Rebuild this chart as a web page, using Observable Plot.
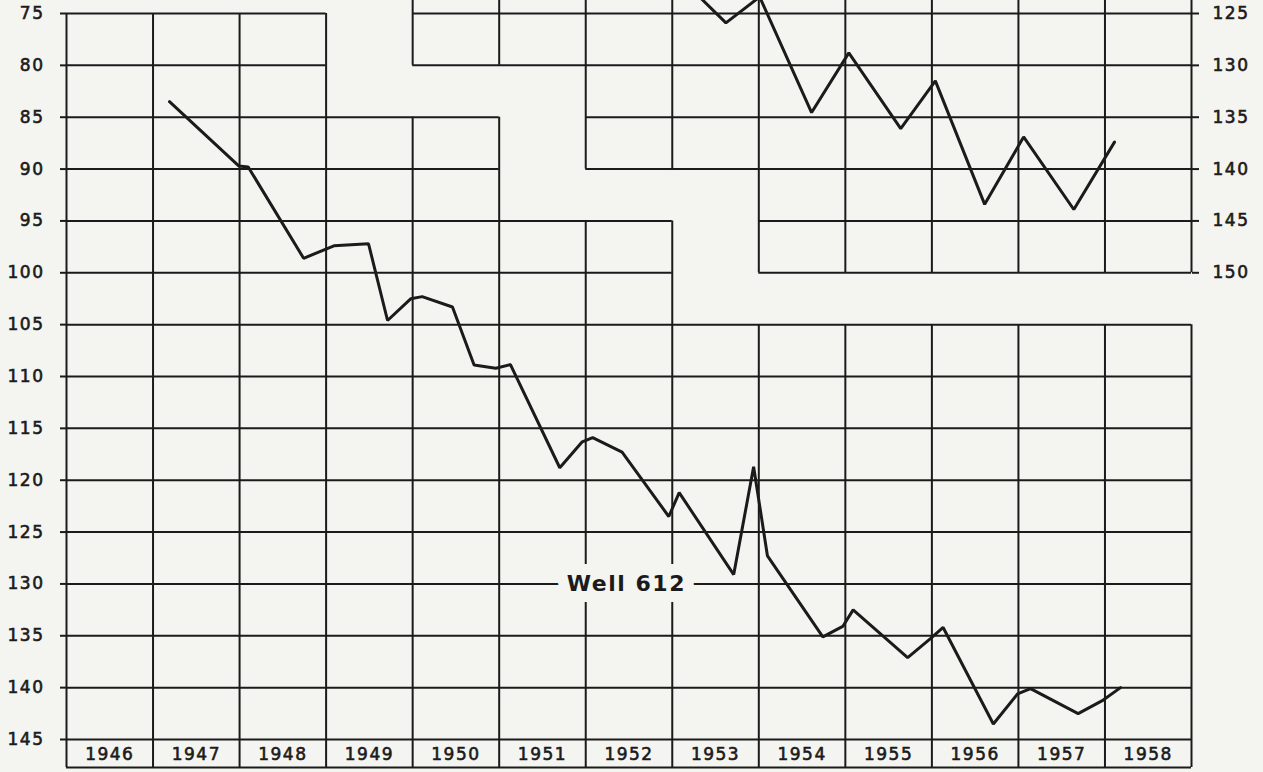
<!DOCTYPE html>
<html>
<head>
<meta charset="utf-8">
<script src="https://cdn.jsdelivr.net/npm/d3@7"></script>
<script src="https://cdn.jsdelivr.net/npm/@observablehq/plot@0.6"></script>
<style>
  html, body { margin: 0; padding: 0; background: #f4f4f1; }
  #chart svg text { letter-spacing: 1.5px; }
  #chart svg g[aria-label="y-axis tick label"] text { stroke: #1b1b1b; stroke-width: 0.6px; }
</style>
</head>
<body>
<div id="chart"></div>
<script>
// ---- Data ----
// Lower hydrograph, Well 612 (depth to water, feet; left axis)
const lowerYears  = [1947.19, 1947.99, 1948.10, 1948.74, 1949.09, 1949.49, 1949.71, 1949.98, 1950.11, 1950.46,
                     1950.71, 1950.96, 1951.13, 1951.70, 1951.96, 1952.08, 1952.42, 1952.96, 1953.08, 1953.71,
                     1953.94, 1954.10, 1954.74, 1954.97, 1955.09, 1955.72, 1955.98, 1956.13, 1956.71, 1956.99,
                     1957.14, 1957.69, 1957.98, 1958.18];
const lowerDepths = [83.5, 89.7, 89.8, 98.6, 97.4, 97.2, 104.6, 102.5, 102.3, 103.3,
                     108.9, 109.2, 108.85, 118.8, 116.3, 115.9, 117.3, 123.5, 121.2, 129.1,
                     118.7, 127.3, 135.1, 134.1, 132.5, 137.1, 135.3, 134.2, 143.5, 140.6,
                     140.1, 142.5, 141.2, 140.0];

// Upper hydrograph (depth, feet; right axis)
const upperYears  = [1953.29, 1953.62, 1954.01, 1954.61, 1955.04, 1955.64, 1956.04, 1956.61, 1957.06, 1957.64, 1958.11];
const upperDepths = [123.2, 125.9, 123.4, 134.55, 128.8, 136.1, 131.5, 143.4, 136.9, 143.9, 137.4];

// Axes
const leftTicks  = [75, 80, 85, 90, 95, 100, 105, 110, 115, 120, 125, 130, 135, 140, 145];
const rightTicks = [125, 130, 135, 140, 145, 150];
const RIGHT_AXIS_OFFSET = 50;          // right-axis feet = left-axis feet + 50
const yearLabels = [1946, 1947, 1948, 1949, 1950, 1951, 1952, 1953, 1954, 1955, 1956, 1957, 1958];
const FIRST_YEAR = 1946, LAST_YEAR = 1959;
const BOTTOM = 147.7;                  // bottom of the year-label boxes (left-axis feet)
const TOP = 73;                        // upper panel runs off the top

// Grid: stair-stepped panels  [depth, fromYear, toYear]
const lowerRows = [
  [75, 1946, 1949], [80, 1946, 1949],
  [85, 1946, 1951], [90, 1946, 1951],
  [95, 1946, 1953], [100, 1946, 1953],
  [105, 1946, 1959], [110, 1946, 1959], [115, 1946, 1959], [120, 1946, 1959],
  [125, 1946, 1959], [130, 1946, 1959], [135, 1946, 1959], [140, 1946, 1959],
  [145, 1946, 1959], [BOTTOM, 1946, 1959]
];
const upperRows = [
  [75, 1950, 1959], [80, 1950, 1959],
  [85, 1952, 1959], [90, 1952, 1959],
  [95, 1954, 1959], [100, 1954, 1959]
];
// [year, fromDepth, toDepth]
const lowerCols = [
  [1946, 75, BOTTOM], [1947, 75, BOTTOM], [1948, 75, BOTTOM], [1949, 75, BOTTOM],
  [1950, 85, BOTTOM], [1951, 85, BOTTOM],
  [1952, 95, BOTTOM], [1953, 95, BOTTOM],
  [1954, 105, BOTTOM], [1955, 105, BOTTOM], [1956, 105, BOTTOM], [1957, 105, BOTTOM],
  [1958, 105, BOTTOM], [1959, 105, BOTTOM]
];
const upperCols = [
  [1950, TOP, 80], [1951, TOP, 80],
  [1952, TOP, 90], [1953, TOP, 90],
  [1954, TOP, 100], [1955, TOP, 100], [1956, TOP, 100], [1957, TOP, 100],
  [1958, TOP, 100], [1959, TOP, 100]
];
const wellLabel = [{year: 1952.47, depth: 130, text: "Well 612"}];

// ---- Build tables ----
const lower = lowerYears.map((y, i) => ({year: y, depth: lowerDepths[i]}));
const upper = upperYears.map((y, i) => ({year: y, depth: upperDepths[i]}));

const INK = "#1b1b1b";
const PAPER = "#f4f4f1";
const FONT = "DejaVu Sans, sans-serif";

const chart = Plot.plot({
  width: 1263,
  height: 772,
  marginLeft: 66,
  marginRight: 72,
  marginTop: 13,
  marginBottom: 33,
  x: {domain: [FIRST_YEAR, LAST_YEAR], axis: null},
  y: {domain: [75, 145], reverse: true, axis: null},
  style: {background: PAPER, color: INK, fontFamily: FONT},
  marks: [
    Plot.ruleY(lowerRows.concat(upperRows), {y: d => d[0], x1: d => d[1], x2: d => d[2], stroke: INK, strokeWidth: 2}),
    Plot.ruleX(lowerCols.concat(upperCols), {x: d => d[0], y1: d => d[1], y2: d => d[2], stroke: INK, strokeWidth: 2}),
    Plot.axisY({anchor: "left", ticks: leftTicks, tickSize: 6, tickPadding: 16, fontSize: 17,
                strokeWidth: 2, label: null}),
    Plot.axisY({anchor: "right", ticks: rightTicks.map(v => v - RIGHT_AXIS_OFFSET),
                tickFormat: d => String(d + RIGHT_AXIS_OFFSET), tickSize: 7, tickPadding: 14,
                fontSize: 17, strokeWidth: 2, label: null}),
    Plot.text(yearLabels, {x: d => d + 0.5, y: 146.45, text: d => String(d), fontSize: 17,
                           fill: INK, stroke: INK, strokeWidth: 0.6}),
    Plot.text(wellLabel, {x: "year", y: "depth", text: "text", fontSize: 22, fontWeight: "bold",
                          fill: INK, stroke: PAPER, strokeWidth: 22, strokeLinejoin: "miter"}),
    Plot.line(lower, {x: "year", y: "depth", stroke: INK, strokeWidth: 3, strokeLinejoin: "miter"}),
    Plot.line(upper, {x: "year", y: d => d.depth - RIGHT_AXIS_OFFSET, stroke: INK, strokeWidth: 3,
                      strokeLinejoin: "miter"})
  ]
});
document.getElementById("chart").appendChild(chart);
</script>
</body>
</html>
